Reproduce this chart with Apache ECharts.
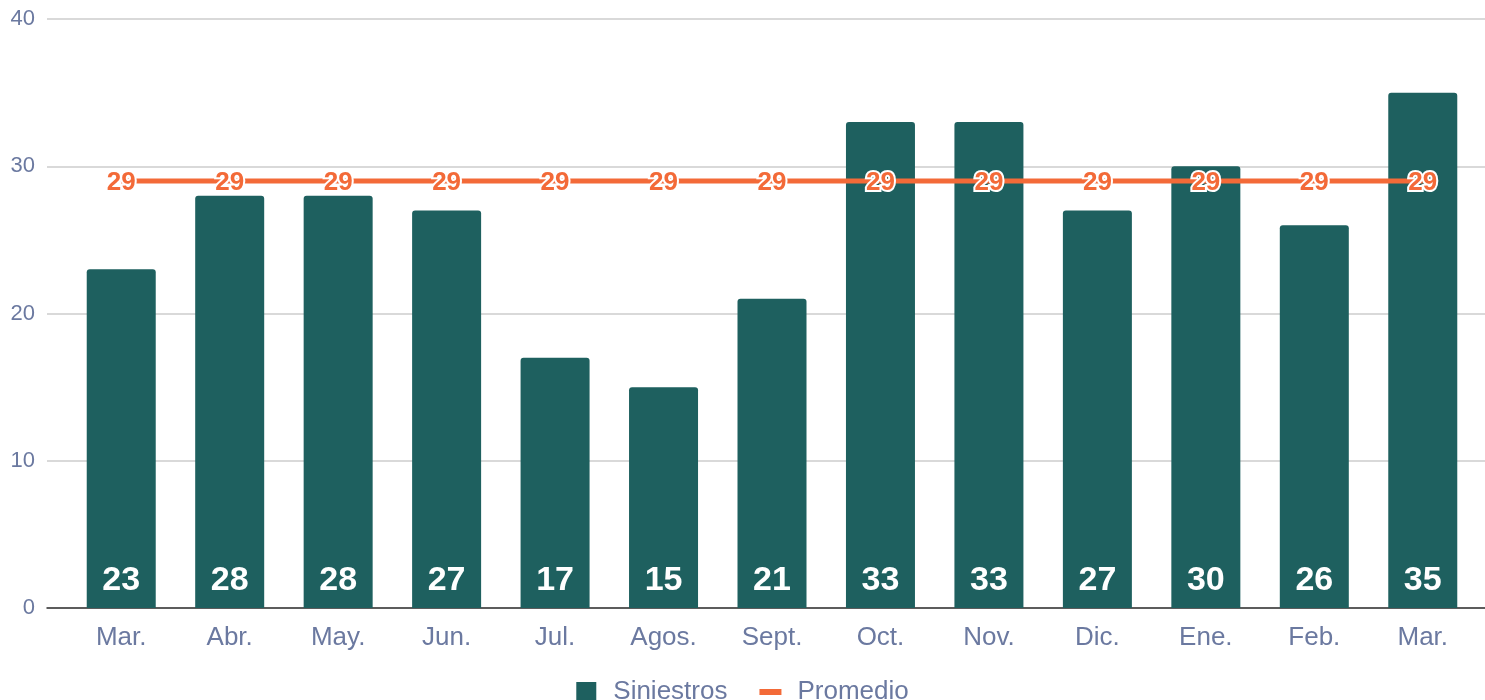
<!DOCTYPE html>
<html>
<head>
<meta charset="utf-8">
<script src="https://cdn.jsdelivr.net/npm/echarts@6/dist/echarts.min.js"></script>
<style>
  html, body { margin: 0; padding: 0; background: #fff; }
  #chart_one { width: 1485px; height: 700px; }
</style>
</head>
<body>
<div id="chart_one"></div>
<script>
// datos
let meses = ['Mar.', 'Abr.', 'May.', 'Jun.', 'Jul.', 'Agos.', 'Sept.', 'Oct.', 'Nov.', 'Dic.', 'Ene.', 'Feb.', 'Mar.'];
let siniestros = [23, 28, 28, 27, 17, 15, 21, 33, 33, 27, 30, 26, 35];
let promedio = [29, 29, 29, 29, 29, 29, 29, 29, 29, 29, 29, 29, 29];
let ticksY = [0, 10, 20, 30, 40];

let fuente = "'Liberation Sans', Arial, sans-serif";
let colorTexto = '#6b79a0';
let verde = '#1e605f';
let naranja = '#f36a38';

let myChart_one = echarts.init(document.getElementById('chart_one'));
let option_one = {
    animation: false,
    textStyle: { fontFamily: fuente },
    legend: {
        left: 'center',
        top: 674,
        itemWidth: 22,
        itemHeight: 20,
        itemGap: 32,
        textStyle: {
            fontSize: 26,
            color: colorTexto,
            fontFamily: fuente,
            padding: [0, 0, 0, 11]
        },
        data: [
            { name: 'Siniestros', icon: 'path://M0,0h20v20H0z' },
            { name: 'Promedio', icon: 'path://M0,0h22v6H0z' }
        ]
    },
    grid: [
        // rejilla de fondo (lineas y eje)
        { left: 47, right: 0, top: 19, bottom: 92 },
        // area de las barras
        { left: 67, right: 8, top: 19, bottom: 92 }
    ],
    xAxis: [
        {
            type: 'value',
            gridIndex: 0,
            min: 0,
            max: 1,
            axisLine: { show: true, onZero: false, lineStyle: { color: '#333', width: 1.5 } },
            axisTick: { show: false },
            axisLabel: { show: false },
            splitLine: { show: false }
        },
        {
            type: 'category',
            gridIndex: 1,
            data: meses,
            axisLine: { show: false },
            axisTick: { show: false },
            axisLabel: { fontSize: 26, color: colorTexto, margin: 17, fontFamily: fuente }
        }
    ],
    yAxis: [
        {
            type: 'value',
            gridIndex: 0,
            min: ticksY[0],
            max: ticksY[ticksY.length - 1],
            interval: 10,
            axisLine: { show: false },
            axisTick: { show: false },
            axisLabel: { fontSize: 22, color: colorTexto, margin: 12, fontFamily: fuente, padding: [3, 0, 0, 0] },
            splitLine: { lineStyle: { color: '#cccccc', width: 1.5 } }
        },
        {
            type: 'value',
            gridIndex: 1,
            min: ticksY[0],
            max: ticksY[ticksY.length - 1],
            interval: 10,
            show: false,
            splitLine: { show: false }
        }
    ],
    series: [
        {
            name: 'Siniestros',
            type: 'bar',
            xAxisIndex: 1,
            yAxisIndex: 1,
            barWidth: 69,
            itemStyle: { color: verde, borderRadius: [3, 3, 0, 0] },
            label: {
                show: true,
                position: 'insideBottom',
                distance: 10,
                color: '#fff',
                fontSize: 34,
                fontWeight: 'bold',
                fontFamily: fuente
            },
            data: siniestros
        },
        {
            name: 'Promedio',
            type: 'line',
            xAxisIndex: 1,
            yAxisIndex: 1,
            symbol: 'circle',
            symbolSize: 1,
            z: 5,
            itemStyle: { color: naranja },
            lineStyle: { color: naranja, width: 5 },
            label: {
                show: true,
                position: 'inside',
                offset: [0, 2],
                color: naranja,
                fontSize: 26,
                fontWeight: 'bold',
                fontFamily: fuente,
                textBorderColor: '#fff',
                textBorderWidth: 4
            },
            data: promedio
        }
    ]
};
myChart_one.setOption(option_one);
</script>
</body>
</html>
